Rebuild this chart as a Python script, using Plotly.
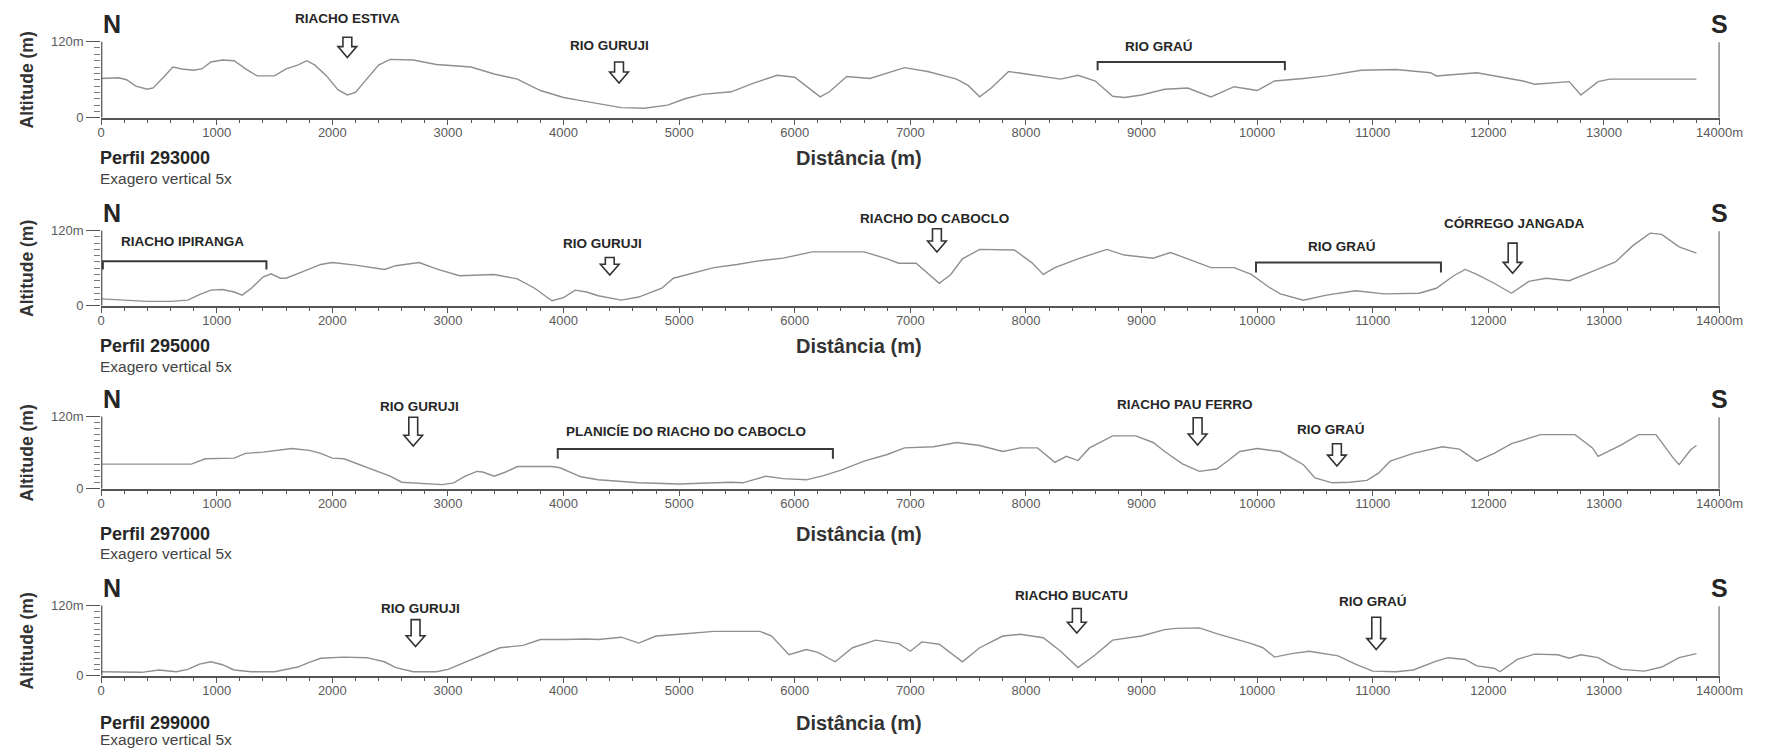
import plotly.graph_objects as go

# ---------------- DATA ----------------
dist_293000 = [0, 150, 220, 300, 400, 450, 550, 620, 700, 800, 870, 950, 1050, 1150, 1250, 1350, 1500, 1600, 1700, 1780, 1850, 1950, 2050, 2130, 2200, 2300, 2400, 2500, 2700, 2900, 3200, 3400, 3600, 3800, 4000, 4150, 4300, 4500, 4700, 4900, 5050, 5200, 5450, 5650, 5850, 6000, 6100, 6220, 6300, 6450, 6650, 6800, 6950, 7150, 7400, 7500, 7600, 7700, 7850, 8000, 8300, 8450, 8600, 8750, 8850, 9000, 9200, 9400, 9600, 9700, 9800, 10000, 10150, 10400, 10600, 10900, 11200, 11500, 11550, 11900, 12100, 12300, 12400, 12700, 12800, 12950, 13050, 13400, 13800]
alt_293000 = [62, 63, 60, 50, 45, 47, 66, 80, 77, 75, 77, 88, 91, 90, 77, 66, 66, 77, 83, 90, 83, 66, 44, 36, 40, 61, 83, 92, 91, 84, 80, 69, 61, 43, 32, 27, 22, 16, 15, 20, 30, 37, 41, 55, 67, 64, 50, 33, 41, 65, 62, 71, 79, 73, 61, 51, 33, 47, 73, 69, 61, 67, 58, 34, 32, 36, 45, 47, 33, 41, 49, 43, 58, 62, 66, 75, 76, 71, 66, 71, 65, 58, 53, 57, 36, 57, 61, 61, 61]

dist_295000 = [0, 200, 400, 600, 750, 850, 950, 1050, 1150, 1220, 1300, 1400, 1470, 1550, 1600, 1750, 1900, 2000, 2200, 2450, 2550, 2750, 2900, 3100, 3400, 3600, 3750, 3900, 4000, 4100, 4200, 4300, 4500, 4650, 4850, 4950, 5100, 5300, 5500, 5700, 5900, 6000, 6150, 6400, 6600, 6800, 6900, 7050, 7250, 7350, 7450, 7600, 7900, 8050, 8150, 8250, 8450, 8700, 8850, 9100, 9250, 9400, 9600, 9800, 9950, 10100, 10200, 10400, 10600, 10850, 11100, 11400, 11550, 11700, 11800, 11900, 12050, 12200, 12350, 12500, 12700, 12900, 13100, 13250, 13400, 13500, 13650, 13800]
alt_295000 = [11, 9, 7, 7, 9, 18, 25, 26, 22, 17, 28, 46, 51, 44, 44, 55, 66, 69, 65, 58, 64, 69, 59, 48, 50, 43, 28, 8, 13, 25, 22, 16, 9, 14, 28, 44, 51, 61, 66, 72, 76, 80, 86, 86, 86, 75, 68, 68, 36, 50, 75, 90, 89, 69, 50, 61, 75, 90, 81, 76, 85, 75, 61, 61, 50, 30, 19, 9, 17, 24, 19, 20, 28, 48, 58, 50, 36, 20, 39, 44, 40, 55, 70, 96, 116, 114, 94, 84]

dist_297000 = [0, 400, 780, 900, 1000, 1150, 1250, 1400, 1650, 1800, 1900, 2000, 2100, 2300, 2500, 2600, 2800, 2950, 3050, 3150, 3250, 3300, 3400, 3500, 3600, 3900, 3970, 4150, 4300, 4450, 4650, 5000, 5300, 5450, 5550, 5750, 5900, 6100, 6250, 6400, 6600, 6800, 6950, 7200, 7400, 7600, 7800, 7950, 8100, 8250, 8350, 8450, 8550, 8750, 8950, 9100, 9200, 9350, 9500, 9650, 9750, 9850, 10000, 10200, 10400, 10500, 10650, 10800, 10950, 11050, 11150, 11350, 11600, 11750, 11900, 12050, 12200, 12450, 12750, 12900, 12950, 13150, 13300, 13450, 13600, 13650, 13750, 13800]
alt_297000 = [41, 41, 41, 50, 50, 51, 59, 61, 67, 64, 59, 51, 50, 35, 21, 11, 9, 7, 10, 21, 29, 28, 21, 28, 37, 37, 35, 20, 15, 13, 10, 8, 10, 11, 10, 21, 17, 15, 22, 31, 46, 57, 68, 70, 77, 72, 62, 68, 68, 44, 54, 47, 68, 88, 88, 77, 62, 42, 29, 33, 47, 62, 67, 62, 40, 18, 10, 11, 14, 26, 46, 59, 70, 66, 46, 59, 75, 90, 90, 68, 54, 73, 90, 90, 51, 40, 65, 72]

dist_299000 = [0, 200, 350, 500, 650, 750, 850, 950, 1050, 1150, 1300, 1500, 1700, 1800, 1900, 2100, 2300, 2450, 2550, 2700, 2900, 3000, 3150, 3300, 3450, 3650, 3800, 4000, 4200, 4300, 4500, 4650, 4800, 5000, 5300, 5700, 5800, 5950, 6100, 6200, 6350, 6500, 6700, 6900, 7000, 7100, 7250, 7450, 7600, 7800, 7950, 8150, 8300, 8450, 8600, 8750, 9000, 9200, 9300, 9500, 9650, 9950, 10050, 10150, 10300, 10450, 10700, 10850, 11000, 11200, 11350, 11550, 11650, 11800, 11900, 12050, 12100, 12250, 12400, 12600, 12700, 12800, 12950, 13050, 13150, 13350, 13500, 13650, 13800]
alt_299000 = [7, 7, 6, 10, 7, 11, 20, 24, 19, 10, 7, 7, 15, 23, 30, 32, 31, 24, 14, 7, 7, 11, 23, 36, 48, 52, 62, 62, 63, 62, 66, 56, 68, 71, 76, 76, 68, 36, 45, 40, 24, 48, 61, 55, 42, 58, 54, 24, 48, 68, 71, 65, 42, 14, 36, 61, 68, 79, 81, 82, 72, 55, 48, 32, 38, 42, 34, 20, 8, 7, 10, 25, 31, 28, 17, 13, 7, 28, 37, 36, 30, 36, 31, 20, 11, 8, 15, 31, 38]

profile_names = ["Perfil 293000", "Perfil 295000", "Perfil 297000", "Perfil 299000"]
profile_dists = [dist_293000, dist_295000, dist_297000, dist_299000]
profile_alts = [alt_293000, alt_295000, alt_297000, alt_299000]

x_tick_values = list(range(0, 14001, 1000))
x_tick_labels = [str(v) for v in x_tick_values[:-1]] + ["14000m"]
y_tick_values = [0, 120]
y_tick_labels = ["0", "120m"]

# arrows
arrow_panel = [0, 0, 1, 1, 1, 2, 2, 2, 3, 3, 3]
arrow_label = ["RIACHO ESTIVA", "RIO GURUJI", "RIO GURUJI", "RIACHO DO CABOCLO", "CÓRREGO JANGADA",
               "RIO GURUJI", "RIACHO PAU FERRO", "RIO GRAÚ", "RIO GURUJI", "RIACHO BUCATU", "RIO GRAÚ"]
arrow_dist = [2130, 4480, 4400, 7230, 12210, 2700, 9485, 10690, 2720, 8440, 11030]
arrow_top = [127, 88, 77, 123, 100, 119, 118, 75, 96, 115, 100]
arrow_tip = [95, 55, 49, 86, 52, 71, 73, 38, 50, 73, 45]
arrow_label_dist = [2130, 4400, 4340, 7210, 12230, 2750, 9380, 10640, 2760, 8390, 11000]
arrow_label_alt = [157, 114, 99, 140, 131, 137, 140, 98, 115, 138, 127]

# brackets
bracket_panel = [0, 1, 1, 2]
bracket_label = ["RIO GRAÚ", "RIACHO IPIRANGA", "RIO GRAÚ", "PLANICÍE DO RIACHO DO CABOCLO"]
bracket_start = [8620, 15, 9990, 3950]
bracket_end = [10240, 1430, 11590, 6330]
bracket_top = [88, 71, 69, 66]
bracket_end_alt = [75, 58, 53, 50]
bracket_label_dist = [9150, 700, 10730, 5060]
bracket_label_alt = [113, 102, 94, 95]

# ---------------- LAYOUT ----------------
W, H = 1771, 753
X0PX, X1PX = 90.5, 1734.0
AXIS_ROWS = [111, 301, 486, 675]      # pixel row of altitude 0
TOP_ROWS = [34, 225, 413, 604]        # pixel row of altitude 120
TITLE_OFF = [40, 40, 45, 47]
SUB_OFF = [61, 61, 65, 64]
YMAX = 165
M_PER_PX_X = 14000.0 / (X1PX - X0PX)

FONT = "Liberation Sans, Arial, sans-serif"
DARK = "#262626"
AXC = "#555555"
LINEC = "#8f8f8f"

fig = go.Figure()
layout = dict(
    width=W, height=H, margin=dict(l=0, r=0, t=0, b=0),
    paper_bgcolor="white", plot_bgcolor="white", showlegend=False,
    font=dict(family=FONT, color=DARK),
)
annotations = []
shapes = []
panel_my = []

for i in range(4):
    sfx = "" if i == 0 else str(i + 1)
    xa, ya = "x" + sfx, "y" + sfx
    row = AXIS_ROWS[i]
    pxm = (AXIS_ROWS[i] - TOP_ROWS[i]) / 120.0
    panel_my.append(1.0 / pxm)
    fig.add_trace(go.Scatter(
        x=profile_dists[i], y=profile_alts[i], mode="lines",
        line=dict(color=LINEC, width=1.4), xaxis=xa, yaxis=ya,
        hoverinfo="skip", cliponaxis=False,
    ))
    layout["xaxis" + sfx] = dict(
        domain=[X0PX / W, X1PX / W], range=[0, 14000], anchor=ya,
        showline=True, linecolor=AXC, linewidth=1.5, showgrid=False, zeroline=False,
        tickmode="array", tickvals=x_tick_values, ticktext=x_tick_labels,
        ticks="outside", ticklen=5, tickwidth=1.2, tickcolor=AXC, ticklabelstandoff=-3,
        tickfont=dict(family=FONT, size=13, color="#5a5a5a"),
        minor=dict(dtick=200, tick0=0, ticks="outside", ticklen=3, tickwidth=1, tickcolor=AXC),
        fixedrange=True,
    )
    layout["yaxis" + sfx] = dict(
        domain=[1 - row / H, 1 - (row - YMAX * pxm) / H], range=[0, YMAX], anchor=xa,
        showline=False, showgrid=False, zeroline=False,
        tickmode="array", tickvals=y_tick_values, ticktext=y_tick_labels,
        ticks="outside", ticklen=14, tickwidth=1.2, tickcolor=AXC,
        tickfont=dict(family=FONT, size=13, color="#5a5a5a"),
        minor=dict(tickmode="array", tickvals=list(range(10, 120, 10)), ticks="outside",
                   ticklen=6, tickwidth=1, tickcolor="#777777"),
        fixedrange=True,
    )
    shapes.append(dict(type="line", xref=xa, yref=ya, x0=0, x1=0, y0=0, y1=120,
                       line=dict(color=AXC, width=2.5)))
    shapes.append(dict(type="line", xref=xa, yref=ya, x0=14000, x1=14000, y0=0, y1=119,
                       line=dict(color=AXC, width=2)))
    annotations.append(dict(text="<b>N</b>", xref=xa, yref=ya, x=0, y=120, yshift=2,
                            xanchor="left", yanchor="bottom", showarrow=False,
                            font=dict(family=FONT, size=25, color=DARK)))
    annotations.append(dict(text="<b>S</b>", xref=xa, yref=ya, x=14000, y=120, yshift=2,
                            xanchor="center", yanchor="bottom", showarrow=False,
                            font=dict(family=FONT, size=25, color=DARK)))
    annotations.append(dict(text="<b>Altitude (m)</b>", xref="paper", yref=ya, x=15 / W, y=60,
                            xanchor="center", yanchor="middle", textangle=-90, showarrow=False,
                            font=dict(family=FONT, size=17.5, color="#333333")))
    annotations.append(dict(text="<b>Distância (m)</b>", xref=xa, yref=ya, x=6560, y=0,
                            yshift=-TITLE_OFF[i], xanchor="center", yanchor="middle", showarrow=False,
                            font=dict(family=FONT, size=20, color="#333333")))
    annotations.append(dict(text="<b>" + profile_names[i] + "</b>", xref=xa, yref=ya, x=0, y=0,
                            yshift=-TITLE_OFF[i], xshift=-3, xanchor="left", yanchor="middle",
                            showarrow=False, font=dict(family=FONT, size=18, color=DARK)))
    annotations.append(dict(text="Exagero vertical 5x", xref=xa, yref=ya, x=0, y=0,
                            yshift=-SUB_OFF[i], xshift=-3, xanchor="left", yanchor="middle",
                            showarrow=False, font=dict(family=FONT, size=15.5, color="#444444")))

# arrows (fixed pixel widths, converted to data units)
HW, SW = 9.5 * M_PER_PX_X, 4.5 * M_PER_PX_X
for k in range(len(arrow_label)):
    p = arrow_panel[k]
    sfx = "" if p == 0 else str(p + 1)
    HH = 11 * panel_my[p]
    c, t, b = arrow_dist[k], arrow_top[k], arrow_tip[k]
    path = (f"M {c - SW},{t} L {c + SW},{t} L {c + SW},{b + HH} L {c + HW},{b + HH} "
            f"L {c},{b} L {c - HW},{b + HH} L {c - SW},{b + HH} Z")
    shapes.append(dict(type="path", path=path, xref="x" + sfx, yref="y" + sfx,
                       line=dict(color="#333333", width=1.6), fillcolor="white"))
    annotations.append(dict(text="<b>" + arrow_label[k] + "</b>", xref="x" + sfx, yref="y" + sfx,
                            x=arrow_label_dist[k], y=arrow_label_alt[k], xanchor="center",
                            yanchor="middle", showarrow=False,
                            font=dict(family=FONT, size=13.5, color=DARK)))

# brackets
for k in range(len(bracket_label)):
    sfx = "" if bracket_panel[k] == 0 else str(bracket_panel[k] + 1)
    x1, x2 = bracket_start[k], bracket_end[k]
    t, e = bracket_top[k], bracket_end_alt[k]
    shapes.append(dict(type="path", path=f"M {x1},{e} L {x1},{t} L {x2},{t} L {x2},{e}",
                       xref="x" + sfx, yref="y" + sfx, line=dict(color="#3a3a3a", width=2)))
    annotations.append(dict(text="<b>" + bracket_label[k] + "</b>", xref="x" + sfx, yref="y" + sfx,
                            x=bracket_label_dist[k], y=bracket_label_alt[k], xanchor="center",
                            yanchor="middle", showarrow=False,
                            font=dict(family=FONT, size=13.5, color=DARK)))

layout["annotations"] = annotations
layout["shapes"] = shapes
fig.update_layout(**layout)
fig.write_html("out.html")
